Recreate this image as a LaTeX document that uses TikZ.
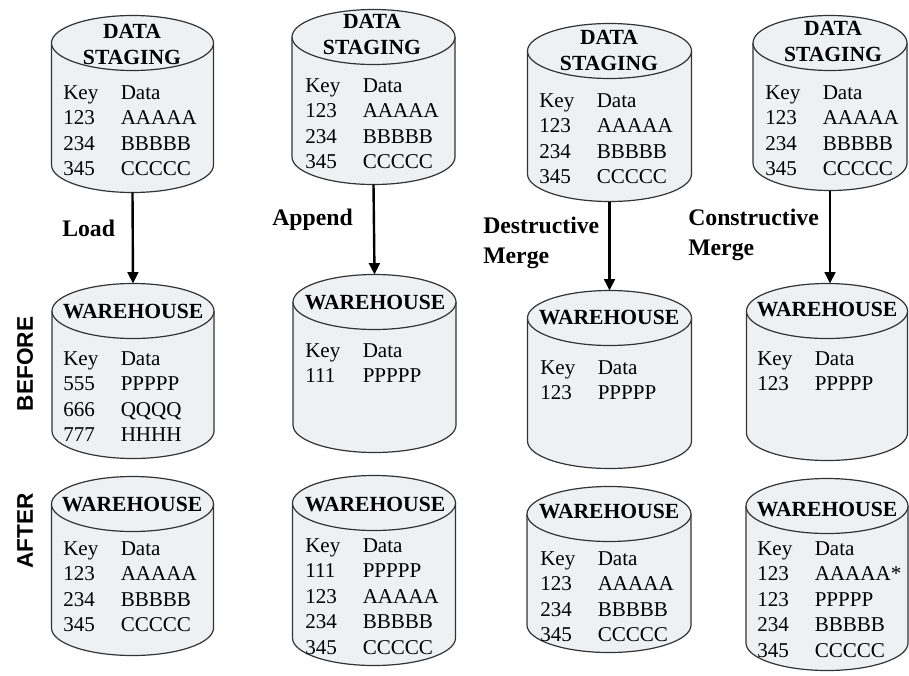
\documentclass[tikz,border=0pt]{standalone}
\usepackage{fontspec}
\setmainfont{Liberation Serif}
\setsansfont{Liberation Sans}
\usetikzlibrary{arrows.meta}

\definecolor{cylgray}{RGB}{239,240,242}
\newcommand{\cylry}{27.5}
% cylinder: name, centre x, top ellipse y, bottom ellipse y, x radius
\newcommand{\dbcyl}[5]{%
  \fill[cylfill] (#2-#5,#3) -- (#2-#5,#4) arc[start angle=180, end angle=0, x radius=#5, y radius=\cylry] -- (#2+#5,#3) -- cycle;
  \draw[cylline] (#2-#5,#3) -- (#2-#5,#4) arc[start angle=180, end angle=0, x radius=#5, y radius=\cylry] -- (#2+#5,#3);
  \filldraw[cylfill, cylline] (#2,#3) ellipse[x radius=#5, y radius=\cylry];
  \coordinate (#1-top) at (#2,#3-\cylry);
  \coordinate (#1-bot) at (#2,#4+\cylry);
}
% table rows: name, x, first baseline, key/data list
\newcommand{\dbrows}[4]{%
  \foreach \k/\d [count=\i from 0] in {#4} {
    \node[rowtxt] (#1-k\i) at (#2,#3+\i*25.6) {\k};
    \node[rowtxt] (#1-d\i) at (#2+57.5,#3+\i*25.6) {\d};
  }}

\tikzset{
  cylfill/.style={fill=cylgray},
  cylline/.style={draw=black!80, line width=0.9pt},
  cyltitle/.style={font=\bfseries\fontsize{16.2}{19.5}\selectfont, align=center, inner sep=0pt},
  rowtxt/.style={font=\fontsize{15.8}{19}\selectfont, anchor=base west, inner sep=0pt},
  steplabel/.style={font=\bfseries\fontsize{17.8}{22.5}\selectfont, anchor=west, align=left, inner sep=0pt},
  phase/.style={font=\sffamily\bfseries\fontsize{17}{20}\selectfont, rotate=90, inner sep=0pt},
  flow/.style={-{Triangle[length=8.5pt,width=8pt]}, line width=1.8pt}
}

\begin{document}
\begin{tikzpicture}[x=0.75pt, y=-0.75pt]
  \useasboundingbox (0,0) rectangle (909,675);

  % Data staging
  \dbcyl{s1}{132.5}{43}{165}{81}
  \dbcyl{s2}{373.5}{37}{157}{81.5}
  \dbcyl{s3}{609.5}{51}{174}{82}
  \dbcyl{s4}{830}{43}{163}{77}
  \node[cyltitle] (s1-title) at (132,44) {DATA\\STAGING};
  \node[cyltitle] (s2-title) at (372,34.5) {DATA\\STAGING};
  \node[cyltitle] (s3-title) at (609,50.5) {DATA\\STAGING};
  \node[cyltitle] (s4-title) at (833,41.5) {DATA\\STAGING};
  \dbrows{s1}{63}{99}{Key/Data,123/AAAAA,234/BBBBB,345/CCCCC}
  \dbrows{s2}{305}{92}{Key/Data,123/AAAAA,234/BBBBB,345/CCCCC}
  \dbrows{s3}{539}{107}{Key/Data,123/AAAAA,234/BBBBB,345/CCCCC}
  \dbrows{s4}{765}{99}{Key/Data,123/AAAAA,234/BBBBB,345/CCCCC}

  % Warehouse before
  \dbcyl{w1b}{133}{311}{431}{81}
  \dbcyl{w2b}{374.5}{302}{425}{81.5}
  \dbcyl{w3b}{609.5}{318}{441}{82}
  \dbcyl{w4b}{827}{311}{433}{80.5}
  \node[cyltitle] (w1b-title) at (133,312) {WAREHOUSE};
  \node[cyltitle] (w2b-title) at (375,303) {WAREHOUSE};
  \node[cyltitle] (w3b-title) at (609,318) {WAREHOUSE};
  \node[cyltitle] (w4b-title) at (827,310) {WAREHOUSE};
  \dbrows{w1b}{63}{365}{Key/Data,555/PPPPP,666/QQQQ,777/HHHH}
  \dbrows{w2b}{305}{357}{Key/Data,111/PPPPP}
  \dbrows{w3b}{540}{374}{Key/Data,123/PPPPP}
  \dbrows{w4b}{757}{365}{Key/Data,123/PPPPP}

  % Warehouse after
  \dbcyl{w1a}{132.5}{504}{628}{81}
  \dbcyl{w2a}{374}{503}{638}{81.5}
  \dbcyl{w3a}{609}{514}{625}{82}
  \dbcyl{w4a}{827}{506}{643}{81}
  \node[cyltitle] (w1a-title) at (132,505) {WAREHOUSE};
  \node[cyltitle] (w2a-title) at (375,505) {WAREHOUSE};
  \node[cyltitle] (w3a-title) at (609,512) {WAREHOUSE};
  \node[cyltitle] (w4a-title) at (827,510) {WAREHOUSE};
  \dbrows{w1a}{63}{555}{Key/Data,123/AAAAA,234/BBBBB,345/CCCCC}
  \dbrows{w2a}{305}{552}{Key/Data,111/PPPPP,123/AAAAA,234/BBBBB,345/CCCCC}
  \dbrows{w3a}{540}{565}{Key/Data,123/AAAAA,234/BBBBB,345/CCCCC}
  \dbrows{w4a}{757}{555}{Key/Data,123/AAAAA*,123/PPPPP,234/BBBBB,345/CCCCC}

  % Loading steps
  \draw[flow] (s1-bot) -- (w1b-top);
  \draw[flow] (s2-bot) -- (w2b-top);
  \draw[flow] (s3-bot) -- (w3b-top);
  \draw[flow] (s4-bot) -- (s4-bot |- w4b-top);
  \node[steplabel] (load) at (62,228) {Load};
  \node[steplabel] (append) at (272,220) {Append};
  \node[steplabel] (dmerge) at (483,243) {Destructive\\Merge};
  \node[steplabel] (cmerge) at (688,235) {Constructive\\Merge};

  % Phases
  \node[phase] (before) at (25,364) {BEFORE};
  \node[phase] (after) at (25,531) {AFTER};
\end{tikzpicture}
\end{document}
